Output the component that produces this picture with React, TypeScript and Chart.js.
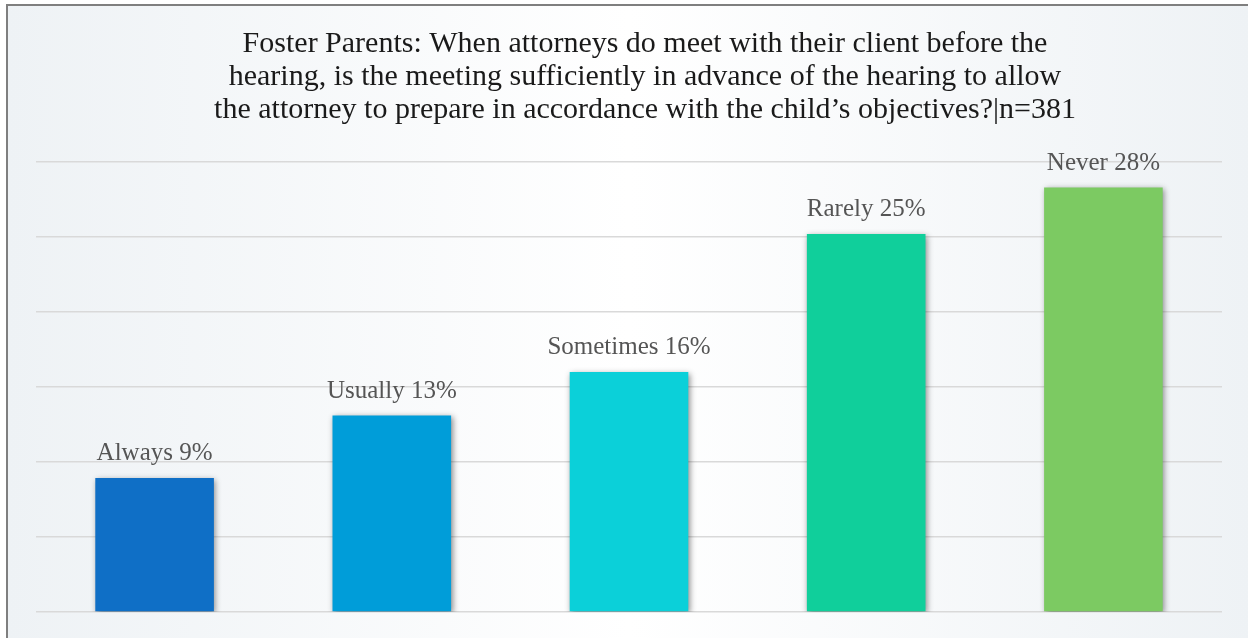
import React, { useEffect, useRef } from "react";
import { Chart, registerables } from "chart.js";

Chart.register(...registerables);

const titleLines = [
  "Foster Parents: When attorneys do meet with their client before the",
  "hearing, is the meeting sufficiently in advance of the hearing to allow",
  "the attorney to prepare in accordance with the child\u2019s objectives?|n=381",
];
const categories = ["Always", "Usually", "Sometimes", "Rarely", "Never"];
const values = [8.93, 13.1, 16.0, 25.2, 28.3];
const barColors = ["#0f6fc6", "#009dd9", "#0bd0d9", "#10cf9b", "#7cca62"];
const yMax = 30;
const yStep = 5;

const SERIF = '"Liberation Serif", "Times New Roman", serif';

const bgPlugin = {
  id: "bgPlugin",
  beforeDraw(chart: any) {
    const { ctx, width, height } = chart;
    ctx.save();
    const g = ctx.createLinearGradient(0, 0, width, 0);
    g.addColorStop(0, "#eef2f5");
    g.addColorStop(0.5, "#ffffff");
    g.addColorStop(1, "#eef2f5");
    ctx.fillStyle = g;
    ctx.fillRect(0, 0, width, height);
    ctx.restore();
  },
};

const titlePlugin = {
  id: "titlePlugin",
  afterDraw(chart: any) {
    const { ctx } = chart;
    ctx.save();
    ctx.fillStyle = "#1a1a1a";
    ctx.font = `30px ${SERIF}`;
    ctx.textAlign = "center";
    ctx.textBaseline = "alphabetic";
    const cx = 637;
    titleLines.forEach((line, i) => {
      ctx.fillText(line, cx, 46 + i * 33);
    });
    ctx.restore();
  },
};

const shadowPlugin = {
  id: "shadowPlugin",
  beforeDatasetsDraw(chart: any) {
    const { ctx } = chart;
    ctx.save();
    ctx.shadowColor = "rgba(0,0,0,0.45)";
    ctx.shadowBlur = 6;
    ctx.shadowOffsetX = 1.5;
    ctx.shadowOffsetY = 1.5;
  },
  afterDatasetsDraw(chart: any) {
    chart.ctx.restore();
  },
};

const labelPlugin = {
  id: "labelPlugin",
  afterDatasetsDraw(chart: any) {
    const { ctx } = chart;
    const meta = chart.getDatasetMeta(0);
    ctx.save();
    ctx.fillStyle = "#555555";
    ctx.font = `25px ${SERIF}`;
    ctx.textAlign = "center";
    ctx.textBaseline = "alphabetic";
    meta.data.forEach((bar: any, i: number) => {
      const txt = `${categories[i]} ${Math.round(values[i])}%`;
      ctx.fillText(txt, bar.x, bar.y - 18);
    });
    ctx.restore();
  },
};

export default function App() {
  const ref = useRef<HTMLCanvasElement | null>(null);
  useEffect(() => {
    document.body.style.margin = "0";
    const canvas = ref.current!;
    const chart = new Chart(canvas, {
      type: "bar",
      data: {
        labels: categories,
        datasets: [
          {
            data: values,
            backgroundColor: barColors,
            borderWidth: 0,
            categoryPercentage: 1,
            barPercentage: 0.5,
          },
        ],
      },
      options: {
        animation: false,
        responsive: false,
        events: [],
        layout: { padding: { left: 28, right: 28, top: 156, bottom: 28 } },
        plugins: {
          legend: { display: false },
          title: { display: false },
          tooltip: { enabled: false },
        },
        scales: {
          x: { display: false },
          y: {
            min: 0,
            max: yMax,
            ticks: { display: false, stepSize: yStep },
            border: { display: false },
            grid: { color: "#d9d9d9", lineWidth: 1.5, drawTicks: false },
          },
        },
      },
      plugins: [bgPlugin, shadowPlugin, labelPlugin, titlePlugin],
    });
    return () => chart.destroy();
  }, []);
  return (
    <div
      style={{
        position: "absolute",
        left: 6,
        top: 4,
        width: 1242,
        height: 634,
        border: "2px solid #7f7f7f",
      }}
    >
      <canvas ref={ref} width={1242} height={634} style={{ display: "block" }} />
    </div>
  );
}
